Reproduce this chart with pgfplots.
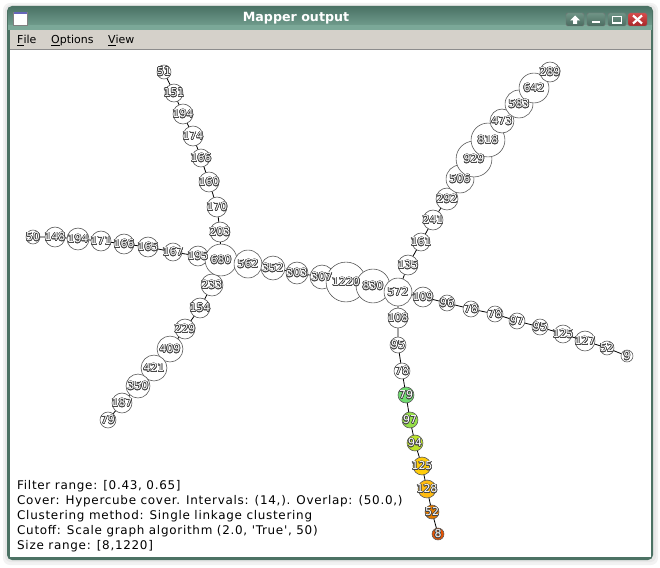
\documentclass[border=0pt]{standalone}
\usepackage{pgfplots}
\pgfplotsset{compat=1.18}
\usepackage{pgfplotstable}
\usepackage{fontspec}
\setmainfont{DejaVu Sans}
\newfontfamily\uifont{DejaVu Sans}[LetterSpace=6]
\usepackage{contour}
\contourlength{0.65pt}
\definecolor{labc}{HTML}{454545}
\definecolor{ngray}{HTML}{5A5A5A}
\definecolor{frame}{HTML}{4C7264}
\definecolor{tbA}{HTML}{4B7366}
\definecolor{tbB}{HTML}{7BA898}
\definecolor{menu}{HTML}{D5D1CA}
\definecolor{btnA}{HTML}{6F9486}
\definecolor{btnB}{HTML}{4A6C60}
\definecolor{clA}{HTML}{D84A4A}
\definecolor{clB}{HTML}{A82828}
\definecolor{cA}{HTML}{6FDB6F}
\definecolor{cB}{HTML}{96E048}
\definecolor{cC}{HTML}{BCE22A}
\definecolor{cD}{HTML}{FFCC0A}
\definecolor{cE}{HTML}{FFBB10}
\definecolor{cF}{HTML}{E27A00}
\definecolor{cG}{HTML}{E85200}

\pgfplotstableread{
x y r lab
164 72 7 51
174 93 9 151
183 114 10 194
193 136 10 174
201 158 9 166
209 182 10 160
217 207 10 170
220 232 10 203
33 237 7 50
55 237 10 148
78 239 11 194
101 241 10 171
124 244 10 166
148 247 10 165
173 252 9 167
198 256 10 195
212 285 11 233
200 308 10 154
185 329 10 229
170 349 13 409
154 368 13 421
138 386 12 350
122 403 10 187
108 420 8 79
221 260 16 680
248 264 14 562
273 268 12 352
297 273 11 303
322 277 12 307
346 282 20 1220
373 286 17 830
398 292 14 572
408 265 10 135
421 242 9 161
433 220 10 241
447 199 11 292
460 179 14 506
474 159 18 929
488 140 17 818
502 121 12 473
519 104 14 583
534 88 15 642
550 72 10 289
423 297 10 109
447 303 8 96
471 309 8 78
495 314 8 78
517 321 8 97
540 327 8 95
563 334 9 125
585 341 10 127
607 348 7 52
627 356 6 9
398 318 10 108
398 345 8 95
402 371 8 78
}\whitetab

\pgfplotstableread{
x y r lab
406 395 8 79
410 420 8 97
415 443 8 94
422 466 9 125
427 489 9 128
432 512 7 52
438 534 6 8
}\coltab

\begin{document}
\begin{tikzpicture}
\begin{axis}[
  width=660bp, height=567bp, scale only axis,
  xmin=0, xmax=660, ymin=0, ymax=567, y dir=reverse,
  hide axis, clip=false]
% page extent
\path (0,0) rectangle (660,567);
% soft shadow
\fill[black!5, rounded corners=7] (3,3) rectangle (658,565);
\fill[black!9, rounded corners=6] (5,5) rectangle (656,562);
% window frame
\fill[frame, rounded corners=5] (7,6) rectangle (653,560);
\shade[top color=tbA, bottom color=tbB, rounded corners=4] (8,7) rectangle (652,31);
\fill[tbB] (8,25) rectangle (652,30);
\fill[menu] (10,30) rectangle (651,49);
\fill[black!45] (10,49) rectangle (651,50);
\fill[white] (10,50) rectangle (651,557);
% icon
\fill[white, draw=black!50, line width=0.5] (13,12) rectangle (27,25);
\fill[blue!55!black!60] (13.5,12.5) rectangle (26.5,14.5);
% title
\node[text=white, inner sep=0pt, font=\bfseries\fontsize{12.7}{14}\selectfont] at (296,18.5) {Mapper output};
% buttons
\shade[top color=btnA, bottom color=btnB, draw=black!55, rounded corners=1.5] (566,13) rectangle (584,26);
\shade[top color=btnA, bottom color=btnB, draw=black!55, rounded corners=1.5] (587,13) rectangle (605,26);
\shade[top color=btnA, bottom color=btnB, draw=black!55, rounded corners=1.5] (608,13) rectangle (626,26);
\shade[top color=clA, bottom color=clB, draw=black!55, rounded corners=1.5] (628,13) rectangle (647,26);
\fill[white] (575,15.5) -- (580,20.5) -- (577,20.5) -- (577,24) -- (573,24) -- (573,20.5) -- (570,20.5) -- cycle;
\fill[white] (592,21.5) rectangle (600,23.5);
\draw[white, line width=1.6] (612.5,16.5) rectangle (621.5,23);
\draw[white, line width=2.2] (633,15.5) -- (642,23.5) (642,15.5) -- (633,23.5);
% menu
\node[anchor=base west, inner sep=0pt, font=\fontsize{11}{12}\selectfont] at (17,44) {\underline{F}ile};
\node[anchor=base west, inner sep=0pt, font=\fontsize{11}{12}\selectfont] at (51,44) {\underline{O}ptions};
\node[anchor=base west, inner sep=0pt, font=\fontsize{11}{12}\selectfont] at (108,44) {\underline{V}iew};

% ---- edges ----
\addplot[black, no marks, line width=0.8bp] coordinates {(164,72) (174,93) (183,114) (193,136) (201,158) (209,182) (217,207) (220,232) (221,260)};
\addplot[black, no marks, line width=0.8bp] coordinates {(33,237) (55,237) (78,239) (101,241) (124,244) (148,247) (173,252) (198,256) (221,260)};
\addplot[black, no marks, line width=0.8bp] coordinates {(221,260) (212,285) (200,308) (185,329) (170,349) (154,368) (138,386) (122,403) (108,420)};
\addplot[black, no marks, line width=0.8bp] coordinates {(221,260) (248,264) (273,268) (297,273) (322,277) (346,282) (373,286) (398,292)};
\addplot[black, no marks, line width=0.8bp] coordinates {(398,292) (408,265) (421,242) (433,220) (447,199) (460,179) (474,159) (488,140) (502,121) (519,104) (534,88) (550,72)};
\addplot[black, no marks, line width=0.8bp] coordinates {(398,292) (423,297) (447,303) (471,309) (495,314) (517,321) (540,327) (563,334) (585,341) (607,348) (627,356)};
\addplot[black, no marks, line width=0.8bp] coordinates {(398,292) (398,318) (398,345) (402,371) (406,395) (410,420) (415,443) (422,466) (427,489) (432,512) (438,534)};

% ---- white nodes ----
\addplot[scatter, only marks, mark=*,
  visualization depends on={\thisrow{r}\as\rr},
  scatter/@pre marker code/.code={\scope[mark size=\rr, fill=white, draw=ngray, line width=0.6bp]},
  scatter/@post marker code/.code={\endscope}]
  table[x=x, y=y] {\whitetab};
% ---- coloured nodes ----
\addplot[only marks, mark=*, mark size=8, mark options={fill=cA, draw=ngray, line width=0.6bp}] coordinates {(406,395)};
\addplot[only marks, mark=*, mark size=8, mark options={fill=cB, draw=ngray, line width=0.6bp}] coordinates {(410,420)};
\addplot[only marks, mark=*, mark size=8, mark options={fill=cC, draw=ngray, line width=0.6bp}] coordinates {(415,443)};
\addplot[only marks, mark=*, mark size=9, mark options={fill=cD, draw=ngray, line width=0.6bp}] coordinates {(422,466)};
\addplot[only marks, mark=*, mark size=9, mark options={fill=cE, draw=ngray, line width=0.6bp}] coordinates {(427,489)};
\addplot[only marks, mark=*, mark size=7, mark options={fill=cF, draw=ngray, line width=0.6bp}] coordinates {(432,512)};
\addplot[only marks, mark=*, mark size=6, mark options={fill=cG, draw=ngray, line width=0.6bp}] coordinates {(438,534)};

% ---- labels ----
\pgfplotsset{labelstyle/.style={only marks, mark=none, point meta=explicit,
  nodes near coords={\contour{labc}{\pgfmathprintnumber[1000 sep={}, assume math mode=true]{\pgfplotspointmeta}}},
  every node near coord/.append style={anchor=center, inner sep=0pt, text=white, font=\fontsize{11}{11}\selectfont}}}
\addplot[labelstyle] table[x=x, y=y, meta=lab] {\whitetab};
\addplot[labelstyle] table[x=x, y=y, meta=lab] {\coltab};

% ---- info text ----
\node[anchor=base west, inner sep=0pt, font=\uifont\fontsize{12}{13}\selectfont] at (17,489) {Filter range: [0.43, 0.65]};
\node[anchor=base west, inner sep=0pt, font=\uifont\fontsize{12}{13}\selectfont] at (17,504) {Cover: Hypercube cover. Intervals: (14,). Overlap: (50.0,)};
\node[anchor=base west, inner sep=0pt, font=\uifont\fontsize{12}{13}\selectfont] at (17,519) {Clustering method: Single linkage clustering};
\node[anchor=base west, inner sep=0pt, font=\uifont\fontsize{12}{13}\selectfont] at (17,534) {Cutoff: Scale graph algorithm (2.0, {\char"27}True{\char"27}, 50)};
\node[anchor=base west, inner sep=0pt, font=\uifont\fontsize{12}{13}\selectfont] at (17,549) {Size range: [8,1220]};
\end{axis}
\end{tikzpicture}
\end{document}
